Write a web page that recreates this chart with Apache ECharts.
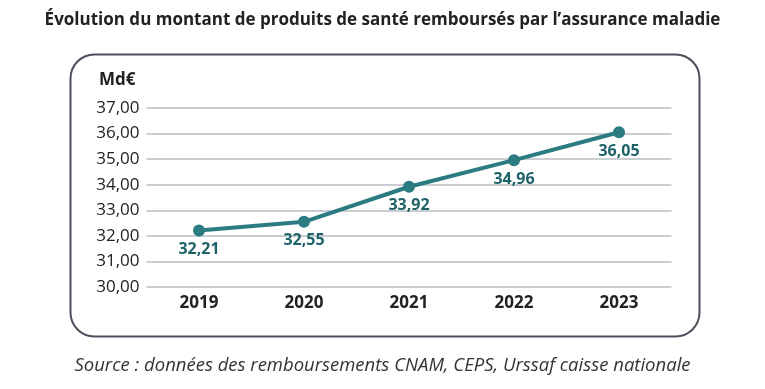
<!DOCTYPE html>
<html><head><meta charset="utf-8">
<script src="https://cdn.jsdelivr.net/npm/echarts@6/dist/echarts.min.js"></script>
<style>html,body{margin:0;padding:0;background:#fff}#c{width:765px;height:389px}</style>
</head><body><div id="c"></div>
<script>
const categories = ['2019','2020','2021','2022','2023'];
const values = [32.21, 32.55, 33.92, 34.96, 36.05];
const yMin = 30, yMax = 37, yStep = 1;
const title = 'Évolution du montant de produits de santé remboursés par l\u2019assurance maladie';
const unit = 'Md€';
const source = 'Source : données des remboursements CNAM, CEPS, Urssaf caisse nationale';

const fr = v => v.toFixed(2).replace('.', ',');
const chart = echarts.init(document.getElementById('c'), null, {renderer:'canvas'});
const FONT = 'Open Sans';
chart.setOption({
  animation:false,
  textStyle:{fontFamily:FONT},
  title:[
    {text:title, left:'center', top:7, textStyle:{fontFamily:FONT, fontSize:17, fontWeight:'bold', color:'#222'}},
    {text:source, left:'center', top:351, textStyle:{fontFamily:FONT, fontSize:18.5, fontStyle:'italic', fontWeight:'normal', color:'#333'}}
  ],
  graphic:[
    {type:'rect', left:68, top:52, shape:{width:629, height:282, r:24}, style:{fill:'none', stroke:'#4b505c', lineWidth:2}, z:-1},
    {type:'text', left:99, top:72, style:{text:unit, font:'bold 17px "Open Sans"', fill:'#222'}}
  ],
  grid:{left:146.5, right:93.5, top:108, bottom:102},
  xAxis:{type:'category', data:categories, boundaryGap:true,
    axisLine:{show:false}, axisTick:{show:false},
    axisLabel:{margin:8, fontSize:17, fontWeight:'bold', color:'#222', fontFamily:FONT}},
  yAxis:{type:'value', min:yMin, max:yMax, interval:yStep,
    axisLine:{show:false}, axisTick:{show:false},
    splitLine:{lineStyle:{color:'#b9bcc2', width:1.5}},
    axisLabel:{margin:7, fontSize:17, color:'#222', fontFamily:FONT, formatter:v=>fr(v)}},
  series:[{type:'line', data:values, symbol:'circle', symbolSize:12,
    lineStyle:{color:'#2b7b82', width:4}, itemStyle:{color:'#2b7b82'},
    label:{show:true, position:'bottom', distance:5, formatter:p=>fr(p.value),
      fontSize:16, fontWeight:'bold', color:'#1f636a', fontFamily:FONT}}]
});
</script></body></html>
